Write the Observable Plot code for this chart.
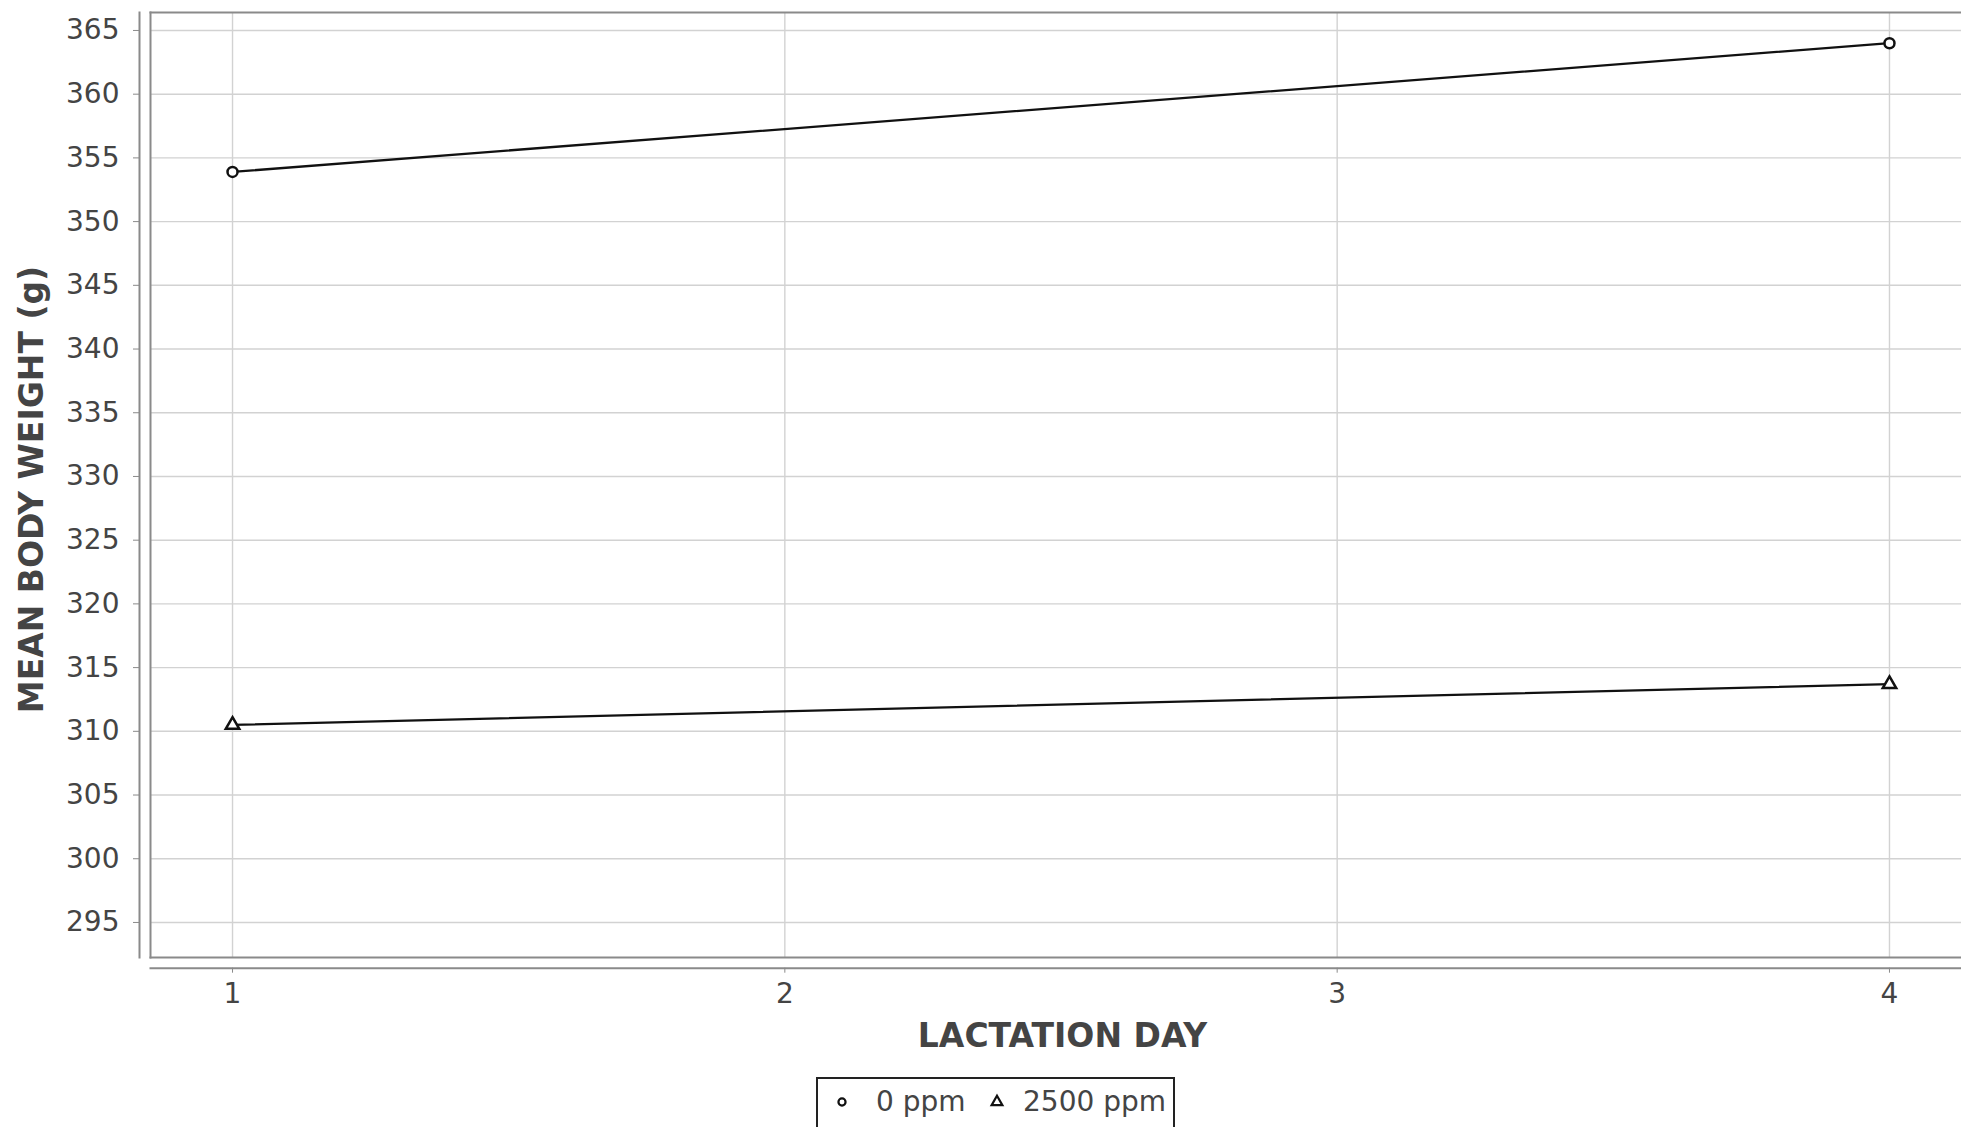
<!DOCTYPE html>
<html>
<head>
<meta charset="utf-8">
<script src="https://cdn.jsdelivr.net/npm/d3@7"></script>
<script src="https://cdn.jsdelivr.net/npm/@observablehq/plot@0.6"></script>
<style>
  html, body { margin: 0; padding: 0; background: #fff; overflow: hidden; }
  #chart svg { display: block; }
  #legend {
    position: absolute; left: 816px; top: 1077px; width: 355px; height: 60px;
    border: 2px solid #222; background: #fff;
    font-family: "DejaVu Sans", sans-serif; font-size: 28px; color: #444;
  }
  #legend .item { position: absolute; top: 9px; line-height: 28px; white-space: nowrap; }
  #legend svg { position: absolute; overflow: visible; }
</style>
</head>
<body>
<div id="chart"></div>
<div id="legend"></div>
<script>
// ---- data ----
const days = [1, 4];
const ppm0 = [353.9, 364.0];
const ppm2500 = [310.5, 313.7];
const seriesNames = ["0 ppm", "2500 ppm"];
const seriesSymbols = ["circle", "triangle"];
const xTicks = [1, 2, 3, 4];
const yTicks = [295, 300, 305, 310, 315, 320, 325, 330, 335, 340, 345, 350, 355, 360, 365];
const xTitle = "LACTATION DAY";
const yTitle = "MEAN BODY WEIGHT (g)";

const rows = [];
[ppm0, ppm2500].forEach((vals, si) => {
  vals.forEach((v, i) => rows.push({day: days[i], value: v, series: seriesNames[si], symbol: seriesSymbols[si]}));
});

const W = 1961, H = 1060;
const textColor = "#444";
const axisColor = "#8a8a8a";
const gridColor = "#d2d2d2";

const chart = Plot.plot({
  width: W,
  height: H,
  marginLeft: 150,
  marginRight: 0,
  marginTop: 12,
  marginBottom: 103,
  style: {fontFamily: "'DejaVu Sans', sans-serif", background: "#fff"},
  x: {domain: [0.8515, 4.1304], axis: null},
  y: {domain: [292.25, 366.41], axis: null},
  symbol: {domain: seriesNames, range: seriesSymbols},
  marks: [
    Plot.gridX(xTicks, {stroke: gridColor, strokeOpacity: 1, strokeWidth: 1.4}),
    Plot.gridY(yTicks, {stroke: gridColor, strokeOpacity: 1, strokeWidth: 1.4}),
    Plot.frame({anchor: "top", stroke: axisColor, strokeWidth: 2}),
    Plot.frame({anchor: "left", stroke: axisColor, strokeWidth: 2}),
    Plot.frame({anchor: "bottom", stroke: axisColor, strokeWidth: 2}),
    // detached axis lines
    Plot.frame({anchor: "left", dx: -11, stroke: axisColor, strokeWidth: 2}),
    Plot.frame({anchor: "bottom", dy: 10.7, stroke: axisColor, strokeWidth: 2}),
    Plot.axisY(yTicks, {anchor: "left", dx: -11, tickSize: 6, tickPadding: 14, fontSize: 28, stroke: axisColor, fill: textColor, label: null, tickFormat: d => String(d)}),
    Plot.axisX(xTicks, {anchor: "bottom", dy: 10.7, tickSize: 5, tickPadding: 10, fontSize: 28, stroke: axisColor, fill: textColor, label: null, tickFormat: d => String(d)}),
    Plot.text([xTitle], {text: d => d, frameAnchor: "bottom", textAnchor: "middle", lineAnchor: "bottom", dx: 6.5, dy: 89, fontSize: 33, fontWeight: "bold", fill: textColor}),
    Plot.text([yTitle], {text: d => d, frameAnchor: "left", textAnchor: "middle", lineAnchor: "bottom", rotate: -90, dx: -108, dy: 4.5, fontSize: 33, fontWeight: "bold", fill: textColor}),
    Plot.line(rows, {x: "day", y: "value", z: "series", stroke: "#111", strokeWidth: 2.3}),
    Plot.dot(rows, {x: "day", y: "value", symbol: "series", r: 5, stroke: "#111", strokeWidth: 2.5, fill: "#fff"})
  ]
});
document.getElementById("chart").appendChild(chart);

// ---- legend ----
const legend = d3.select("#legend");
const itemPos = [{sym: 24, text: 58}, {sym: 179, text: 205}];
seriesNames.forEach((name, i) => {
  const s = legend.append("svg").attr("width", 1).attr("height", 1)
    .style("left", itemPos[i].sym + "px").style("top", "23px");
  const type = seriesSymbols[i] === "circle" ? d3.symbolCircle : d3.symbolTriangle;
  const size = seriesSymbols[i] === "circle" ? 40 : 50;
  s.append("path").attr("d", d3.symbol(type, size)())
    .attr("fill", "#fff").attr("stroke", "#111").attr("stroke-width", 2.2);
  legend.append("div").attr("class", "item").style("left", itemPos[i].text + "px").text(name);
});
</script>
</body>
</html>
